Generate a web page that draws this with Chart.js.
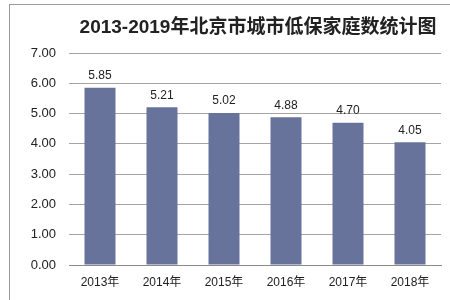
<!DOCTYPE html>
<html>
<head>
<meta charset="utf-8">
<script src="https://cdn.jsdelivr.net/npm/chart.js@4"></script>
<style>
    html, body { margin: 0; padding: 0; background: #fff; }
    #wrap { width: 450px; height: 300px; }
</style>
</head>
<body>
<div id="wrap"><canvas id="chart"></canvas></div>
<script>
const categories = ['2013年', '2014年', '2015年', '2016年', '2017年', '2018年'];
const households = [5.85, 5.21, 5.02, 4.88, 4.70, 4.05];
const yTicks = [0, 1, 2, 3, 4, 5, 6, 7];
const chartTitle = '2013-2019年北京市城市低保家庭数统计图';

const FONT = '"Liberation Sans", Arial, "Noto Sans CJK SC", sans-serif';

// frame, title and the value labels above the bars
const decorPlugin = {
    id: 'decor',
    beforeDraw(chart) {
        const ctx = chart.ctx;
        ctx.save();
        ctx.strokeStyle = '#9a9a9a';
        ctx.lineWidth = 1;
        ctx.strokeRect(9.5, 4.5, 600, 400);
        ctx.restore();
    },
    afterDatasetsDraw(chart) {
        const ctx = chart.ctx;
        ctx.save();
        ctx.fillStyle = '#222';
        ctx.font = 'bold 19px ' + FONT;
        ctx.textAlign = 'center';
        ctx.textBaseline = 'middle';
        ctx.fillText(chartTitle, 258, 28);

        ctx.font = '12px ' + FONT;
        ctx.fillStyle = '#222';
        ctx.textBaseline = 'bottom';
        chart.getDatasetMeta(0).data.forEach((bar, i) => {
            ctx.fillText(households[i].toFixed(2), bar.x, bar.y - 6);
        });
        ctx.restore();
    }
};

new Chart(document.getElementById('chart').getContext('2d'), {
    type: 'bar',
    data: {
        labels: categories,
        datasets: [{
            label: '低保家庭数',
            data: households,
            backgroundColor: '#67739b',
            barPercentage: 0.5,
            categoryPercentage: 1.0
        }]
    },
    options: {
        responsive: true,
        maintainAspectRatio: false,
        animation: false,
        layout: {
            padding: { top: 53, right: 9, bottom: 0, left: 0 }
        },
        plugins: {
            legend: { display: false },
            tooltip: { enabled: false },
            title: { display: false }
        },
        scales: {
            x: {
                grid: { display: false },
                border: { display: true, color: '#8a8a8a' },
                ticks: {
                    color: '#222',
                    font: { size: 12, family: FONT },
                    padding: 2
                },
                afterFit(scale) { scale.height = 35; }
            },
            y: {
                min: 0,
                max: 7,
                afterBuildTicks(scale) {
                    scale.ticks = yTicks.map(v => ({ value: v }));
                },
                grid: { color: '#a5a5a5', drawTicks: false },
                border: { display: false },
                ticks: {
                    color: '#222',
                    font: { size: 13, family: FONT },
                    padding: 13,
                    callback: v => v.toFixed(2)
                },
                afterFit(scale) { scale.width = 69; }
            }
        }
    },
    plugins: [decorPlugin]
});
</script>
</body>
</html>
